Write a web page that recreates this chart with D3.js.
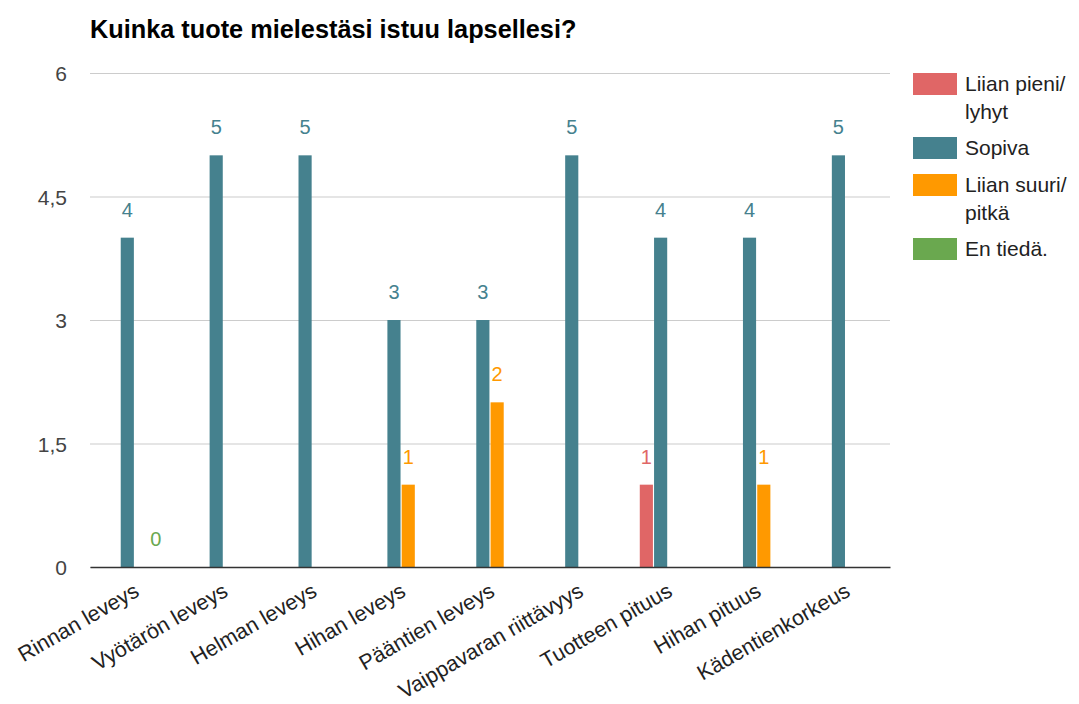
<!DOCTYPE html>
<html>
<head>
<meta charset="utf-8">
<script src="https://cdn.jsdelivr.net/npm/d3@7"></script>
<style>
  body { margin: 0; background: #fff; }
  svg { font-family: "Liberation Sans", Arial, sans-serif; }
</style>
</head>
<body>
<svg id="chart" width="1079" height="704"></svg>
<script>
// chart values
var categories = ["Rinnan leveys", "Vyötärön leveys", "Helman leveys", "Hihan leveys",
  "Pääntien leveys", "Vaippavaran riittävyys", "Tuotteen pituus", "Hihan pituus", "Kädentienkorkeus"];
var seriesNames = ["Liian pieni/lyhyt", "Sopiva", "Liian suuri/pitkä", "En tiedä."];
var seriesColors = ["#e06666", "#45818e", "#ff9900", "#6aa84f"];
var tooSmall = [null, null, null, null, null, null, 1, null, null];
var fits = [4, 5, 5, 3, 3, 5, 4, 4, 5];
var tooBig = [null, null, null, 1, 2, null, null, 1, null];
var dontKnow = [0, null, null, null, null, null, null, null, null];
var yTicks = [0, 1.5, 3, 4.5, 6];

var seriesValues = [tooSmall, fits, tooBig, dontKnow];

var plotLeft = 90, plotRight = 890, plotTop = 73, plotBottom = 567;

var svg = d3.select("#chart");

svg.append("text")
    .attr("x", 90)
    .attr("y", 38)
    .attr("font-size", 25.3)
    .attr("font-weight", "bold")
    .attr("fill", "#000")
    .text("Kuinka tuote mielestäsi istuu lapsellesi?");

var y = d3.scaleLinear().domain([0, 6]).range([plotBottom, plotTop]);
var x0 = d3.scaleBand().domain(categories).range([plotLeft, plotRight]);
var groupW = 56;
var x1 = d3.scaleBand()
    .domain(seriesNames)
    .range([(x0.bandwidth() - groupW) / 2, (x0.bandwidth() + groupW) / 2])
    .paddingInner(0.08);

// gridlines
svg.append("g")
    .attr("transform", "translate(" + plotLeft + ",0)")
    .call(d3.axisLeft(y).tickValues(yTicks).tickSize(-(plotRight - plotLeft)).tickFormat(""))
    .call(function(g) {
      g.select(".domain").remove();
      g.selectAll("line").attr("stroke", "#cccccc").attr("stroke-width", 1.2);
    });

// y labels
svg.append("g")
    .attr("transform", "translate(" + plotLeft + ",0)")
    .call(d3.axisLeft(y).tickValues(yTicks).tickSize(0).tickPadding(23)
      .tickFormat(function(d) { return String(d).replace(".", ","); }))
    .call(function(g) {
      g.select(".domain").remove();
      g.selectAll("text")
          .attr("font-size", 21)
          .attr("font-family", "Liberation Sans, Arial, sans-serif")
          .attr("fill", "#444")
          .attr("dy", "0.36em");
    });

// bars
var rows = [];
seriesValues.forEach(function(vals, si) {
  vals.forEach(function(v, ci) {
    if (v !== null) rows.push({cat: categories[ci], s: seriesNames[si], color: seriesColors[si], v: v});
  });
});

var groups = svg.append("g");
groups.selectAll("rect")
    .data(rows)
    .join("rect")
    .attr("x", function(d) { return x0(d.cat) + x1(d.s); })
    .attr("y", function(d) { return y(d.v); })
    .attr("width", x1.bandwidth())
    .attr("height", function(d) { return y(0) - y(d.v); })
    .attr("fill", function(d) { return d.color; });

groups.selectAll("text.val")
    .data(rows)
    .join("text")
    .attr("class", "val")
    .attr("x", function(d) { return x0(d.cat) + x1(d.s) + x1.bandwidth() / 2; })
    .attr("y", function(d) { return y(d.v) - 21; })
    .attr("text-anchor", "middle")
    .attr("font-size", 20)
    .attr("fill", function(d) { return d.color; })
    .text(function(d) { return d.v; });

// baseline + category labels
svg.append("g")
    .attr("transform", "translate(0," + plotBottom + ")")
    .call(d3.axisBottom(x0).tickSize(0))
    .call(function(g) {
      g.select(".domain").attr("stroke", "#333").attr("stroke-width", 1.5);
      g.selectAll("text")
          .attr("font-size", 21.5)
          .attr("font-family", "Liberation Sans, Arial, sans-serif")
          .attr("fill", "#222")
          .attr("text-anchor", "end")
          .attr("x", 0).attr("y", 0).attr("dy", 0)
          .attr("transform", "translate(6,28) rotate(-30)");
    });

// legend
var legendTops = [];
var yy = 73;
seriesNames.forEach(function(name) {
  legendTops.push(yy);
  var lines = name.indexOf("/") >= 0 ? 2 : 1;
  yy += 37 + (lines - 1) * 27;
});

var legend = svg.append("g");
var item = legend.selectAll("g")
    .data(seriesNames)
    .join("g")
    .attr("transform", function(d, i) { return "translate(913," + legendTops[i] + ")"; });

item.append("rect")
    .attr("width", 44)
    .attr("height", 22)
    .attr("fill", function(d, i) { return seriesColors[i]; });

item.append("text")
    .attr("font-size", 21)
    .attr("fill", "#222")
    .selectAll("tspan")
    .data(function(d) {
      var k = d.indexOf("/");
      return k >= 0 ? [d.slice(0, k + 1), d.slice(k + 1)] : [d];
    })
    .join("tspan")
    .attr("x", 52)
    .attr("y", function(d, i) { return 18 + i * 28; })
    .text(function(d) { return d; });
</script>
</body>
</html>
